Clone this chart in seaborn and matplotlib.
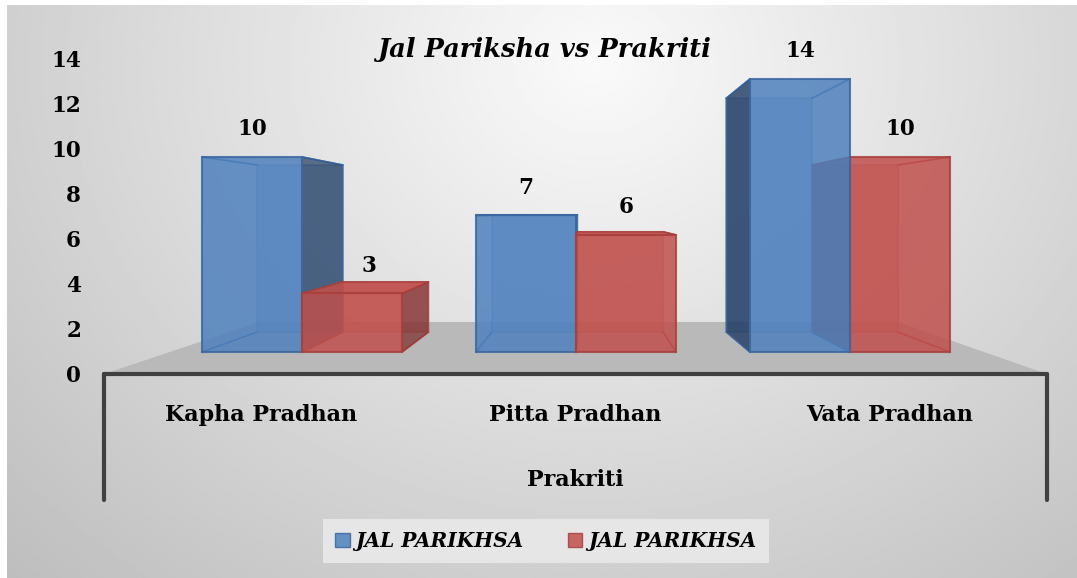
import numpy as np
import pandas as pd
import seaborn as sns
import matplotlib.pyplot as plt
from matplotlib.patches import Polygon, Patch

# data
categories = ["Kapha Pradhan", "Pitta Pradhan", "Vata Pradhan"]
series_keys = ["s1", "s2"]
series_labels = ["JAL PARIKHSA", "JAL PARIKHSA"]
s1_values = [10, 7, 14]
s2_values = [3, 6, 10]
y_ticks = [0, 2, 4, 6, 8, 10, 12, 14]
title = "Jal Pariksha vs Prakriti"
x_title = "Prakriti"

front_colors = ["#4F81BD", "#C0504D"]
edge_colors = ["#3A66A0", "#A8403D"]
side_colors = ["#1F3A5F", "#7A2A28"]

df = pd.DataFrame({
    "cat": categories * 2,
    "series": [series_keys[0]] * 3 + [series_keys[1]] * 3,
    "value": s1_values + s2_values,
})

sns.set_theme(style="white")
plt.rcParams["font.family"] = ["DejaVu Serif"]
plt.rcParams["font.weight"] = "bold"
plt.rcParams["text.color"] = "black"
plt.rcParams["ytick.color"] = "black"
plt.rcParams["ytick.labelcolor"] = "black"

W, H = 1077, 578
fig = plt.figure(figsize=(W / 100, H / 100), dpi=100)
fig.patch.set_facecolor("white")

# chart area background (soft gradient)
bg = fig.add_axes([7 / W, 0, 1 - 7 / W, 1 - 5 / H])
yy, xx = np.mgrid[0:1:200j, 0:1:400j]
d = np.sqrt((xx - 0.55) ** 2 + ((yy - 0.1) / 1.6) ** 2)
bg.imshow(0.98 - 0.30 * d, cmap="gray", vmin=0, vmax=1, aspect="auto",
          extent=[0, 1, 0, 1], origin="upper")
bg.axis("off")

# plot area
L, R, B, T = 104, 1047, 374, 30
ax = fig.add_axes([L / W, 1 - B / H, (R - L) / W, (B - T) / H])
ax.patch.set_alpha(0)
sns.barplot(data=df, x="cat", y="value", hue="series", hue_order=series_keys,
            palette=front_colors, width=0.73, saturation=1, legend=False, ax=ax)
ax.set_xlim(-0.7226, 2.719)
ax.set_ylim(-1.128, 16.51)
ax.set_xticks([])
ax.set_yticks([])
ax.set_xlabel("")
ax.set_ylabel("")
for s in ax.spines.values():
    s.set_visible(False)

# fake 3d: vanishing point + depth scale
vx, vy = 1.036, 7.13
depth = 0.856


def back(x, y, s=depth):
    return (vx + s * (x - vx), vy + s * (y - vy))


# floor
x0, x1 = ax.get_xlim()
y0 = ax.get_ylim()[0]
floor = [(x0, y0), (x1, y0), back(x1, y0, 0.677), back(x0, y0, 0.677)]
ax.add_patch(Polygon(floor, closed=True, facecolor="#b9b9b9", edgecolor="none", zorder=1))

bars = [b for b in ax.patches if isinstance(b, plt.Rectangle) and b.get_height() > 0][:6]
order = sorted(range(len(bars)),
               key=lambda i: -abs(bars[i].get_x() + bars[i].get_width() / 2 - vx))
for rank, i in enumerate(order):
    p = bars[i]
    k = i // 3
    z = 2 + rank * 10
    a, b = p.get_x(), p.get_x() + p.get_width()
    h = p.get_height()
    fl, fr, tr, tl = (a, 0), (b, 0), (b, h), (a, h)
    bl, br, btr, btl = back(*fl), back(*fr), back(*tr), back(*tl)
    # back face + connecting edges
    ax.add_patch(Polygon([bl, br, btr, btl], closed=True, facecolor=front_colors[k],
                         alpha=0.35, edgecolor=edge_colors[k], lw=1.2, zorder=z + 1))
    for f, bk in [(fl, bl), (fr, br), (tr, btr), (tl, btl)]:
        ax.plot([f[0], bk[0]], [f[1], bk[1]], color=edge_colors[k], lw=1.2, zorder=z + 1)
    if a > vx:
        ax.add_patch(Polygon([fl, tl, btl, bl], closed=True, facecolor=side_colors[k],
                             alpha=0.8, edgecolor=edge_colors[k], lw=1.2, zorder=z + 2))
    if b < vx:
        ax.add_patch(Polygon([fr, tr, btr, br], closed=True, facecolor=side_colors[k],
                             alpha=0.7, edgecolor=edge_colors[k], lw=1.2, zorder=z + 2))
    if h < vy:
        ax.add_patch(Polygon([tl, tr, btr, btl], closed=True, facecolor=front_colors[k],
                             alpha=0.9, edgecolor=edge_colors[k], lw=1.2, zorder=z + 3))
    p.set_alpha(0.85)
    p.set_edgecolor(edge_colors[k])
    p.set_linewidth(1.5)
    p.set_zorder(z + 4)

    # value label: over the front top, or over the top face of short boxes far from centre
    cx = (a + b) / 2
    if h < vy and abs(cx - vx) > 0.5:
        cx = (cx + back(cx, h)[0]) / 2
    ax.annotate(f"{h:g}", (cx, h), xytext=(0, 12), textcoords="offset points",
                ha="center", va="bottom", fontsize=15.5, fontweight="bold",
                color="black", zorder=100)

# category table below the floor
ax.plot([0, 1], [0, 0], transform=ax.transAxes, color="#404040", lw=3, clip_on=False, zorder=50)
for xf in [0, 1]:
    ax.plot([xf, xf], [0, -(500 - B) / (B - T)], transform=ax.transAxes,
            color="#404040", lw=3, clip_on=False, zorder=50)
for j, cat in enumerate(categories):
    ax.text((2 * j + 1) / 6, -(415 - B) / (B - T), cat, transform=ax.transAxes,
            ha="center", va="center", fontsize=16, fontweight="bold", color="black")
ax.text(0.5, -(480 - B) / (B - T), x_title, transform=ax.transAxes,
        ha="center", va="center", fontsize=16, fontweight="bold", color="black")

# value axis labels (back wall scale)
ax2 = ax.twinx()
ax2.set_ylim(0, (B - T) / 22.57)
ax2.yaxis.tick_left()
ax2.set_yticks(y_ticks)
ax2.tick_params(axis="y", length=0, pad=16.5, labelsize=15.5, labelcolor="black")
for lab in ax2.get_yticklabels():
    lab.set_fontweight("bold")
for s in ax2.spines.values():
    s.set_visible(False)

fig.text(544 / W, 1 - 50 / H, title, ha="center", va="center",
         fontsize=18.5, fontweight="bold", style="italic", color="black")

handles = [Patch(facecolor=front_colors[k], edgecolor=edge_colors[k], alpha=0.85) for k in range(2)]
leg = fig.legend(handles=handles, labels=series_labels, loc="center", ncol=2,
                 bbox_to_anchor=(546 / W, 1 - 541 / H), frameon=True, fancybox=False,
                 facecolor="#e6e6e6", edgecolor="none", framealpha=1,
                 prop=dict(style="italic", weight="bold", size=14.5),
                 handlelength=0.7, handleheight=0.7, handletextpad=0.3, columnspacing=2.2,
                 borderpad=0.6, borderaxespad=0)
for t in leg.get_texts():
    t.set_color("black")

fig.savefig("out.png", dpi=100)
